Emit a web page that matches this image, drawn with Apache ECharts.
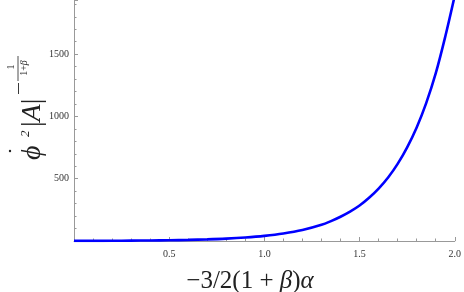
<!DOCTYPE html>
<html><head><meta charset="utf-8">
<script src="https://cdn.jsdelivr.net/npm/echarts@6/dist/echarts.min.js"></script>
<style>html,body{margin:0;padding:0;background:#fff}#c{width:464px;height:292px}</style>
</head><body><div id="c"></div>
<script>
const xValues = [0,0.1,0.2,0.3,0.4,0.5,0.6,0.7,0.8,0.9,1.0,1.1,1.2,1.3,1.35,1.4,1.45,1.5,1.55,1.6,1.65,1.7,1.75,1.8,1.85,1.9,1.95,2.0];
const yValues = [1,1,2,3,4,6,9,13,19,28,41,60,88,130,160,195,236,285,347,421,510,619,752,912,1107,1345,1640,1970];
const xTickLabels = ['0.5','1.0','1.5','2.0'];
const yTickLabels = ['500','1000','1500'];

const serif = 'Liberation Serif';
const chart = echarts.init(document.getElementById('c'));
chart.setOption({
  animation:false,
  grid:{left:74,right:6,top:0,bottom:51,containLabel:false},
  xAxis:{type:'value',min:0,max:2,interval:0.5,
    axisLine:{lineStyle:{color:'#999',width:1}},
    axisTick:{inside:true,length:4,lineStyle:{color:'#999'}},
    minorTick:{show:true,splitNumber:5,length:2.5,lineStyle:{color:'#999'}},
    splitLine:{show:false},
    axisLabel:{fontFamily:serif,fontSize:10,color:'#333',margin:8,
      formatter:v=>{const s=v.toFixed(1);return xTickLabels.includes(s)?s:'';}}
  },
  yAxis:{type:'value',min:0,max:1935,interval:500,
    axisLine:{show:true,lineStyle:{color:'#999',width:1}},
    axisTick:{show:true,inside:true,length:4,lineStyle:{color:'#999'}},
    minorTick:{show:true,splitNumber:5,length:2.5,lineStyle:{color:'#999'}},
    splitLine:{show:false},
    axisLabel:{fontFamily:serif,fontSize:10,color:'#333',margin:5,
      formatter:v=>{const s=String(Math.round(v));return yTickLabels.includes(s)&&v%500===0?s:'';}}
  },
  series:[{type:'line',data:xValues.map((x,i)=>[x,yValues[i]]),smooth:0.35,showSymbol:false,clip:true,
    lineStyle:{color:'#0000ff',width:2.6}}],
  graphic:[
    {type:'text',style:{x:250,y:281,text:'−3/2(1 + {i|β}){i|α}',font:'25px '+serif,fill:'#222',align:'center',verticalAlign:'middle',
      rich:{i:{fontFamily:serif,fontSize:25,fontStyle:'italic',fill:'#222'}}}},
    {type:'group',x:42,y:160,rotation:Math.PI/2,children:[
      {type:'text',style:{x:0,y:-9.5,text:'ϕ',font:'italic 28px '+serif,fill:'#222',align:'left',verticalAlign:'middle'}},
      {type:'circle',shape:{cx:9,cy:-32,r:1.2},style:{fill:'#222'}},
      {type:'text',style:{x:23,y:-16.5,text:'2',font:'italic 13px '+serif,fill:'#222',align:'left',verticalAlign:'middle'}},
      {type:'text',style:{x:33,y:-9.5,text:'|{i|A}|',font:'28px '+serif,fill:'#222',align:'left',verticalAlign:'middle',
        rich:{i:{fontFamily:serif,fontSize:28,fontStyle:'italic'}}}},
      {type:'line',shape:{x1:66,y1:-23.5,x2:77,y2:-23.5},style:{stroke:'#222',lineWidth:0.9}},
      {type:'line',shape:{x1:79,y1:-24,x2:104,y2:-24},style:{stroke:'#222',lineWidth:0.8}},
      {type:'text',style:{x:93,y:-30.4,text:'1',font:'10px '+serif,fill:'#222',align:'center',verticalAlign:'middle'}},
      {type:'text',style:{x:92,y:-17.4,text:'1+{i|β}',font:'10px '+serif,fill:'#222',align:'center',verticalAlign:'middle',
        rich:{i:{fontStyle:'italic',fontSize:10,fontFamily:serif}}}}
    ]}
  ]
});
</script></body></html>
